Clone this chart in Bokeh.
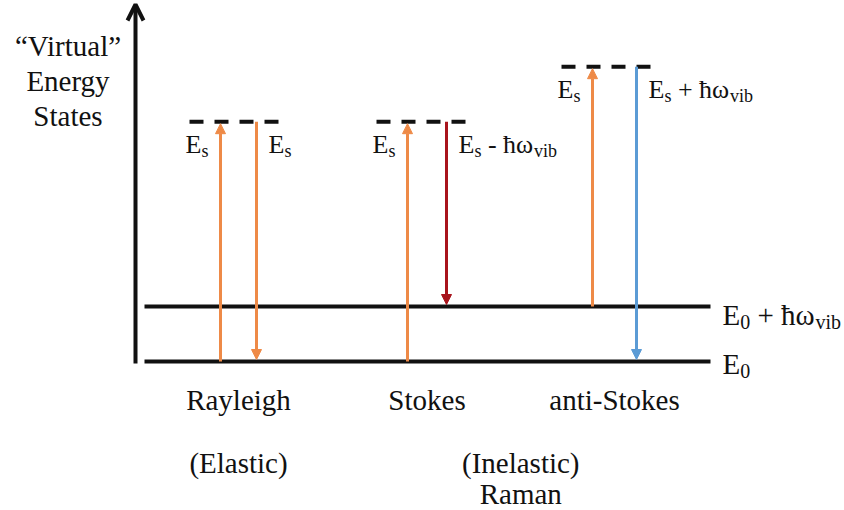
from bokeh.plotting import figure
from bokeh.models import Range1d, ColumnDataSource, Arrow, NormalHead, OpenHead
from bokeh.embed import file_html
from bokeh.resources import INLINE
from bokeh.core.properties import value

# ---------------- data ----------------
processes = ["Rayleigh", "Stokes", "anti-Stokes"]
initial_state = [0.0, 0.0, 1.0]      # energy above E0, in units of ħω_vib
final_state = [0.0, 1.0, 0.0]
photon_energy = 4.36                 # E_s, in units of ħω_vib
absorbed_labels = [[("E", False), ("s", True)]] * 3
emitted_labels = [
    [("E", False), ("s", True)],
    [("E", False), ("s", True), (" - ħω", False), ("vib", True)],
    [("E", False), ("s", True), (" + ħω", False), ("vib", True)],
]
absorbed_colors = ["#EE8A47", "#EE8A47", "#EE8A47"]
emitted_colors = ["#EE8A47", "#A8141C", "#5B9BD5"]
level_energies = [0.0, 1.0]
level_labels = [
    [("E", False), ("0", True)],
    [("E", False), ("0", True), (" + ħω", False), ("vib", True)],
]
scattering_kinds = ["(Elastic)", "(Inelastic)"]
kind_members = [[0], [1, 2]]
kind_subtitles = ["", "Raman"]
axis_title = ["\u201cVirtual\u201d", "Energy", "States"]

# ---------------- layout ----------------
W, H = 844, 510
PAGE_TOP, PAGE_LEFT = 0, 0
E0_Y = 361          # page y of the E0 level
UNIT = 55           # px per ħω_vib
TEXT_SHIFT = -9     # px, compensates the renderer's baseline placement


def ey(page_y):
    return (E0_Y - page_y) / UNIT


up_x = [220, 407, 592]
down_x = [256, 446, 636]
FONT = value("Liberation Serif")
INK = "#111111"

p = figure(width=W, height=H, output_backend="svg", toolbar_location=None,
           x_range=Range1d(PAGE_LEFT, PAGE_LEFT + W),
           y_range=Range1d(ey(PAGE_TOP + H), ey(PAGE_TOP)),
           x_axis_location=None, y_axis_location=None, min_border=0,
           background_fill_color="white", border_fill_color="white")
p.outline_line_color = None
p.grid.visible = False

virtual = [i + photon_energy for i in initial_state]

# energy levels
p.segment(x0=[144] * len(level_energies), x1=[710] * len(level_energies),
          y0=level_energies, y1=level_energies, line_width=4, line_color=INK)

# vertical energy axis
p.add_layout(Arrow(end=OpenHead(size=16, line_width=4, line_color=INK),
                   x_start=135, y_start=ey(363), x_end=135, y_end=ey(4),
                   line_width=4, line_color=INK))

# virtual states (dashed)
p.segment(x0=[u - 31 for u in up_x], x1=[d + 22 for d in down_x],
          y0=virtual, y1=virtual, line_width=4, line_color=INK, line_dash="14 11")

# transitions
for k in range(len(processes)):
    for xs, y0, y1, col in [
        (up_x[k], initial_state[k], virtual[k] - 2 / UNIT, absorbed_colors[k]),
        (down_x[k], virtual[k], final_state[k] + 2 / UNIT, emitted_colors[k]),
    ]:
        p.add_layout(Arrow(end=NormalHead(size=10, fill_color=col, line_color=col, line_width=1),
                           x_start=xs, y_start=y0, x_end=xs, y_end=y1,
                           line_width=3, line_color=col))

# ---------------- text ----------------
EM = {"E": .611, "s": .389, "0": .5, " ": .25, "-": .333, "+": .564,
      "ħ": .5, "ω": .686, "v": .5, "i": .278, "b": .5}
rows = dict(x=[], y=[], dy=[], text=[], size=[])


def run_text(parts, x0, y_base, main_px, sub_px, drop_px):
    x = x0
    for t, sub in parts:
        size = sub_px if sub else main_px
        lead = len(t) - len(t.lstrip(" "))
        rows["x"].append(x + lead * EM[" "] * size)
        rows["y"].append(y_base)
        rows["dy"].append((drop_px if sub else 0) + TEXT_SHIFT)
        rows["text"].append(t.strip(" "))
        rows["size"].append(f"{size}px")
        x += sum(EM.get(c, .5) for c in t) * size


for k in range(len(processes)):
    base = virtual[k] - 32 / UNIT
    run_text(absorbed_labels[k], up_x[k] - 35, base, 26, 18, 6)
    run_text(emitted_labels[k], down_x[k] + 12, base, 26, 18, 6)

level_label_drop = [11, 17]
for e, parts, d in zip(level_energies, level_labels, level_label_drop):
    run_text(parts, 722, e - d / UNIT, 29, 20, 7)

p.text(x="x", y="y", text="text", y_offset="dy", source=ColumnDataSource(rows),
       text_font=FONT, text_font_size=dict(field="size"), text_color=INK,
       text_align="left", text_baseline="alphabetic")

# centred labels
cx, cy, ct = [], [], []
centers = [(u + d) / 2 for u, d in zip(up_x, down_x)]
for k, name in enumerate(processes):
    cx.append(centers[k]); cy.append(ey(408)); ct.append(name)
for kind, members, sub in zip(scattering_kinds, kind_members, kind_subtitles):
    mx = sum(centers[m] for m in members) / len(members)
    cx.append(mx); cy.append(ey(471)); ct.append(kind)
    if sub:
        cx.append(mx); cy.append(ey(502)); ct.append(sub)
for i, line in enumerate(axis_title):
    cx.append(67.5); cy.append(ey(54 + 35 * i)); ct.append(line)

p.text(x=cx, y=cy, text=ct, text_font=FONT, text_font_size="29px", text_color=INK,
       text_align="center", text_baseline="alphabetic", y_offset=TEXT_SHIFT)

open("out.html", "w").write(file_html(p, INLINE))
